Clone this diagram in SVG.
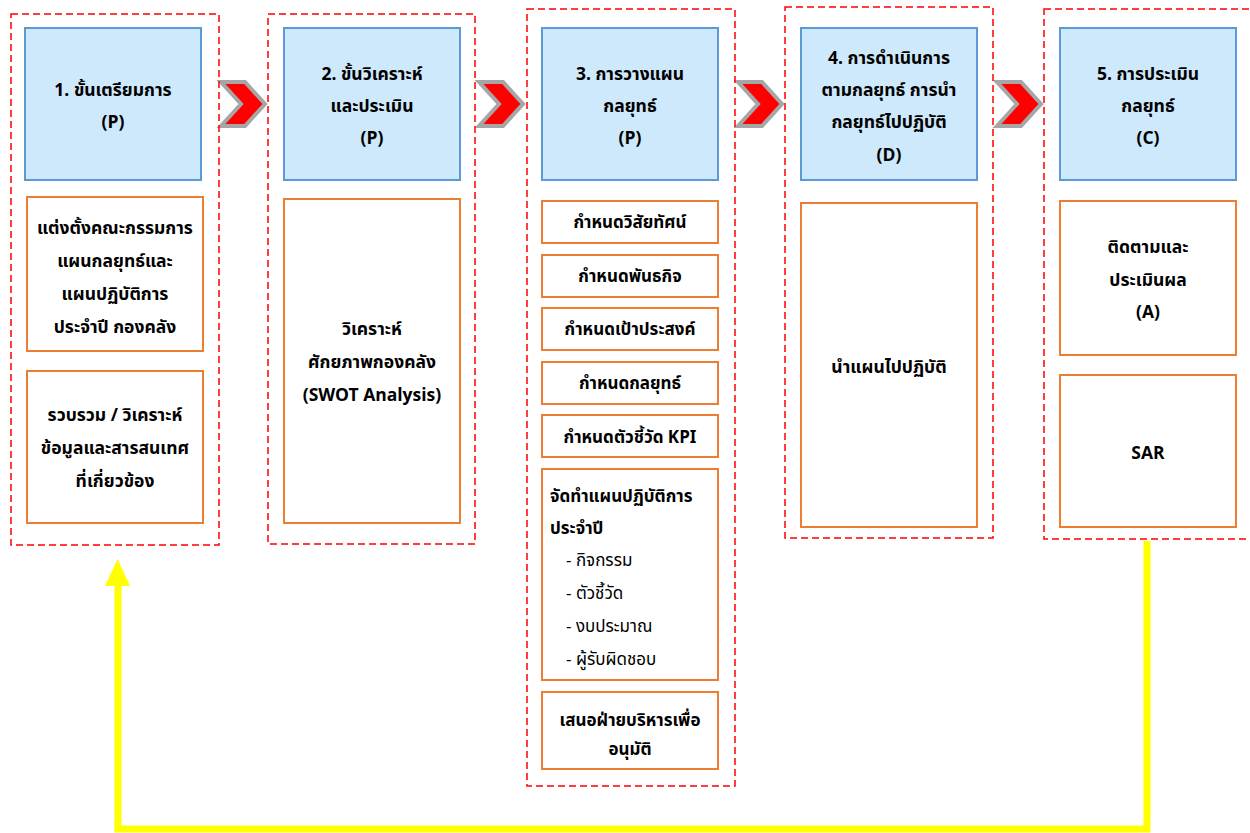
<svg xmlns="http://www.w3.org/2000/svg" width="1250" height="833" viewBox="0 0 1250 833">
<defs>
<style>
.frame{fill:none;stroke:#ff0000;stroke-width:1.5;stroke-dasharray:7,4}
.head{fill:#cde9fb;stroke:#5b9bd5;stroke-width:2}
.box{fill:#ffffff;stroke:#ed7d31;stroke-width:2}
.chev{fill:#ff0000;stroke:#a6a6a6;stroke-width:4;stroke-linejoin:miter}
text{font-family:"Noto Sans Thai","Tahoma","Noto Sans",sans-serif;font-size:17.5px;fill:#000;text-anchor:middle;font-weight:bold}
.sm{font-size:17px}
.l{text-anchor:start}
.n{font-weight:normal}
.yl{fill:none;stroke:#ffff00;stroke-width:7}
</style>
</defs>
<rect width="1250" height="833" fill="#ffffff"/>
<g id="connectors">
<polyline class="yl" points="1147,541 1147,829 118,829 118,584"/>
<polygon points="105,586 130,586 117.5,559" fill="#ffff00"/>
<polygon class="chev" points="221,82 245,82 265,104 245,126 221,126 241,104"/>
<polygon class="chev" points="479,82 503,82 523,104 503,126 479,126 499,104"/>
<polygon class="chev" points="738,82 762,82 782,104 762,126 738,126 758,104"/>
<polygon class="chev" points="997,82 1021,82 1041,104 1021,126 997,126 1017,104"/>
</g>
<g id="col1">
<rect class="frame" x="11" y="14" width="208" height="531"/>
<rect class="head" x="25" y="28" width="176" height="152"/>
<text x="113" y="96">1. ขั้นเตรียมการ</text>
<text x="113" y="128">(P)</text>
<rect class="box" x="27" y="197" width="176" height="154"/>
<text x="115" y="234">แต่งตั้งคณะกรรมการ</text>
<text x="115" y="267">แผนกลยุทธ์และ</text>
<text x="115" y="300">แผนปฏิบัติการ</text>
<text x="115" y="333">ประจำปี กองคลัง</text>
<rect class="box" x="27" y="371" width="176" height="152"/>
<text x="115" y="421">รวบรวม / วิเคราะห์</text>
<text x="115" y="454">ข้อมูลและสารสนเทศ</text>
<text x="115" y="487">ที่เกี่ยวข้อง</text>
</g>
<g id="col2">
<rect class="frame" x="268" y="14" width="207" height="530"/>
<rect class="head" x="284" y="28" width="176" height="152"/>
<text x="372" y="80">2. ขั้นวิเคราะห์</text>
<text x="372" y="112">และประเมิน</text>
<text x="372" y="144">(P)</text>
<rect class="box" x="284" y="199" width="176" height="324"/>
<text x="372" y="335">วิเคราะห์</text>
<text x="372" y="368">ศักยภาพกองคลัง</text>
<text x="372" y="401">(SWOT Analysis)</text>
</g>
<g id="col3">
<rect class="frame" x="527" y="9" width="208" height="777"/>
<rect class="head" x="542" y="28" width="176" height="152"/>
<text x="630" y="80">3. การวางแผน</text>
<text x="630" y="112">กลยุทธ์</text>
<text x="630" y="144">(P)</text>
<rect class="box" x="542" y="201" width="176" height="42"/>
<text class="sm" x="630" y="228">กำหนดวิสัยทัศน์</text>
<rect class="box" x="542" y="255" width="176" height="42"/>
<text class="sm" x="630" y="282">กำหนดพันธกิจ</text>
<rect class="box" x="542" y="308" width="176" height="42"/>
<text class="sm" x="630" y="335">กำหนดเป้าประสงค์</text>
<rect class="box" x="542" y="362" width="176" height="42"/>
<text class="sm" x="630" y="389">กำหนดกลยุทธ์</text>
<rect class="box" x="542" y="415" width="176" height="42"/>
<text class="sm" x="630" y="443">กำหนดตัวชี้วัด KPI</text>
<rect class="box" x="542" y="469" width="176" height="211"/>
<text class="sm l" x="550" y="502">จัดทำแผนปฏิบัติการ</text>
<text class="sm l" x="550" y="534">ประจำปี</text>
<text class="sm l n" x="566" y="566">- กิจกรรม</text>
<text class="sm l n" x="566" y="599">- ตัวชี้วัด</text>
<text class="sm l n" x="566" y="632">- งบประมาณ</text>
<text class="sm l n" x="566" y="665">- ผู้รับผิดชอบ</text>
<rect class="box" x="542" y="692" width="176" height="77"/>
<text class="sm" x="630" y="726">เสนอฝ่ายบริหารเพื่อ</text>
<text class="sm" x="630" y="755">อนุมัติ</text>
</g>
<g id="col4">
<rect class="frame" x="785" y="7" width="208" height="531"/>
<rect class="head" x="801" y="28" width="176" height="152"/>
<text x="889" y="64">4. การดำเนินการ</text>
<text x="889" y="96">ตามกลยุทธ์ การนำ</text>
<text x="889" y="128">กลยุทธ์ไปปฏิบัติ</text>
<text x="889" y="161">(D)</text>
<rect class="box" x="801" y="203" width="176" height="324"/>
<text x="889" y="373">นำแผนไปปฏิบัติ</text>
</g>
<g id="col5">
<rect class="frame" x="1044" y="9" width="210" height="530"/>
<rect class="head" x="1060" y="28" width="176" height="152"/>
<text x="1148" y="80">5. การประเมิน</text>
<text x="1148" y="112">กลยุทธ์</text>
<text x="1148" y="144">(C)</text>
<rect class="box" x="1060" y="201" width="176" height="154"/>
<text x="1148" y="253">ติดตามและ</text>
<text x="1148" y="286">ประเมินผล</text>
<text x="1148" y="318">(A)</text>
<rect class="box" x="1060" y="375" width="176" height="152"/>
<text x="1148" y="459">SAR</text>
</g>
</svg>
